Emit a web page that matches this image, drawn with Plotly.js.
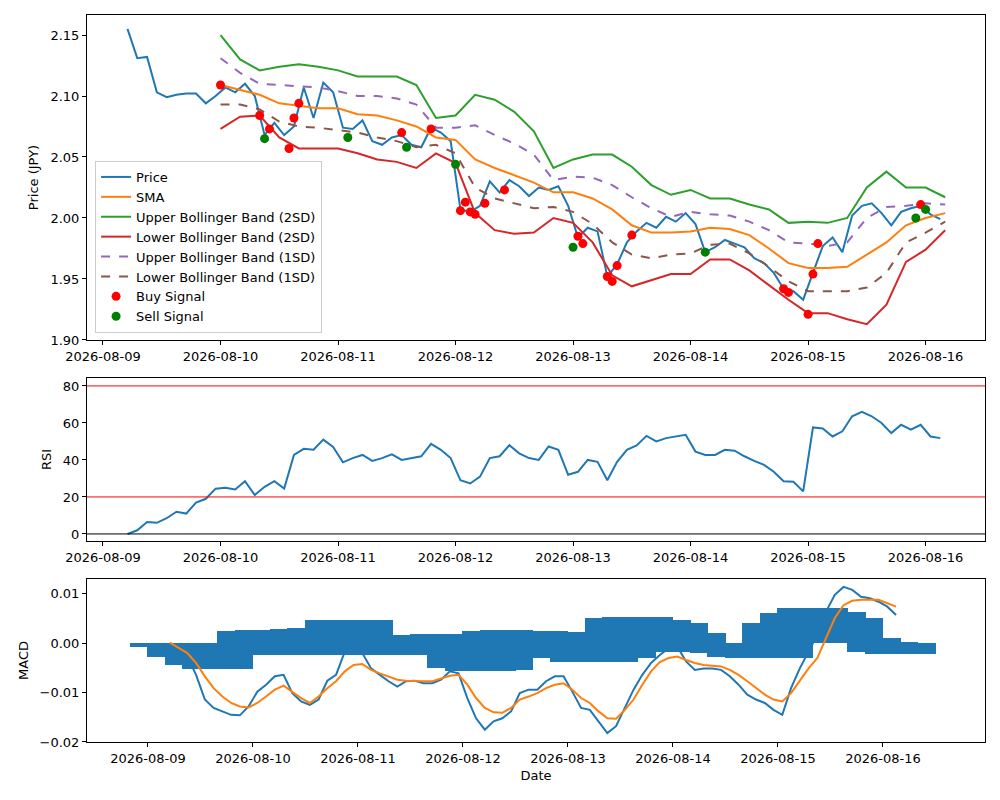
<!DOCTYPE html>
<html>
<head>
<meta charset="utf-8">
<script src="https://cdn.plot.ly/plotly-3.0.1.min.js"></script>
<style>body{margin:0;background:#fff}#chart{width:1000px;height:800px}</style>
</head>
<body>
<div id="chart"></div>
<script>
// hourly feed sampled every 2h, first point 2026-08-09 05:00
var priceStartHour = 5, priceStep = 2;
var price = [2.155,2.131,2.132,2.103,2.099,2.101,2.102,2.102,2.094,2.100,
	2.107,2.103,2.110,2.100,2.068,2.078,2.068,2.075,2.107,2.082,
	2.111,2.103,2.074,2.073,2.080,2.063,2.060,2.066,2.068,2.060,
	2.058,2.074,2.070,2.063,2.007,2.005,2.010,2.030,2.021,2.031,
	2.026,2.018,2.025,2.023,2.026,2.010,1.984,1.992,1.989,1.952,
	1.962,1.980,1.989,1.996,1.992,2.001,1.997,2.004,1.995,1.972,
	1.976,1.982,1.979,1.976,1.967,1.963,1.955,1.942,1.940,1.933,
	1.955,1.977,1.984,1.972,2.002,2.010,2.012,2.004,1.994,2.005,
	2.008,2.010,2.003,1.999];

// bands every 4h from 2026-08-10 00:00
var bandStartHour = 24, bandStep = 4;
var sma = [2.109,2.105,2.101,2.094,2.092,2.090,2.090,2.085,2.084,2.080,
	2.075,2.066,2.064,2.048,2.041,2.035,2.029,2.021,2.021,2.016,
	2.007,1.994,1.988,1.988,1.989,1.992,1.991,1.986,1.975,1.963,
	1.959,1.959,1.960,1.970,1.980,1.994,2.000,2.004];
var upper2 = [2.150,2.130,2.121,2.124,2.126,2.124,2.121,2.116,2.116,2.116,
	2.109,2.082,2.084,2.101,2.097,2.087,2.071,2.041,2.048,2.052,
	2.052,2.042,2.027,2.019,2.023,2.016,2.016,2.011,2.007,1.996,
	1.997,1.996,2.000,2.025,2.038,2.025,2.025,2.017];
var lower2 = [2.073,2.083,2.084,2.066,2.057,2.057,2.057,2.053,2.048,2.046,
	2.041,2.053,2.045,2.004,1.990,1.987,1.988,2.000,1.996,1.980,
	1.953,1.944,1.949,1.954,1.954,1.966,1.966,1.957,1.945,1.933,
	1.922,1.922,1.917,1.913,1.929,1.964,1.974,1.990];
var upper1 = [2.131,2.119,2.110,2.109,2.108,2.107,2.104,2.100,2.100,2.098,
	2.093,2.074,2.074,2.076,2.068,2.061,2.052,2.031,2.034,2.033,
	2.027,2.017,2.008,2.001,2.005,2.003,2.002,1.997,1.990,1.980,
	1.979,1.977,1.980,2.000,2.009,2.010,2.012,2.011];
var lower1 = [2.093,2.093,2.089,2.079,2.075,2.074,2.072,2.070,2.066,2.063,
	2.058,2.060,2.053,2.025,2.016,2.012,2.008,2.009,2.005,1.995,
	1.980,1.970,1.967,1.970,1.971,1.978,1.979,1.971,1.960,1.948,
	1.940,1.940,1.940,1.943,1.955,1.980,1.988,1.997];

// signals: hour offset from 2026-08-09 00:00
var buyHours = [24,32,34,38,39,40,61,67,73,74,75,76,78,82,97,98,103,104,105,108,139,140,144,145,146,167];
var buyPrice = [2.109,2.084,2.073,2.057,2.082,2.094,2.070,2.073,2.006,2.013,2.005,2.003,2.012,2.023,
	1.985,1.979,1.952,1.948,1.961,1.986,1.942,1.939,1.921,1.954,1.979,2.011];
var sellHours = [33,50,62,72,96,123,166,168];
var sellPrice = [2.065,2.066,2.058,2.044,1.976,1.972,2.000,2.007];

var rsi = [0,2,6.5,6,8.5,12,11,17,19,24.5,
	25,24,28.5,21,25.5,28.5,24.5,42.7,46,45.5,
	51,47,38.7,41,42.7,39.5,41,43,40,41,
	42,48.7,45.5,41,29,27.3,31,41,42,48,
	43.6,41,40,47.3,45.5,32,33.6,40,39,29,
	39,45.5,47.8,53,50,51.8,52.7,53.6,44.5,42.7,
	42.7,45.5,45,42,39.5,37.3,33.6,28.5,28.2,23,
	57.6,57,52.7,55.5,63.6,66,63.6,60,54.5,59,
	56.4,59,52.7,51.8];

var macd = [0.0000,-0.0013,-0.0027,-0.0064,-0.0114,-0.0131,-0.0138,-0.0145,-0.0146,-0.0128,
	-0.0098,-0.0084,-0.0067,-0.0064,-0.0101,-0.0118,-0.0125,-0.0114,-0.0076,-0.0064,
	-0.0017,-0.0003,-0.0020,-0.0051,-0.0064,-0.0077,-0.0088,-0.0077,-0.0076,-0.0081,
	-0.0081,-0.0074,-0.0057,-0.0061,-0.0111,-0.0152,-0.0175,-0.0158,-0.0152,-0.0138,
	-0.0101,-0.0094,-0.0094,-0.0077,-0.0067,-0.0067,-0.0098,-0.0131,-0.0135,-0.0158,
	-0.0182,-0.0168,-0.0131,-0.0094,-0.0064,-0.0040,-0.0024,-0.0010,-0.0007,-0.0037,
	-0.0054,-0.0051,-0.0051,-0.0054,-0.0067,-0.0084,-0.0104,-0.0114,-0.0121,-0.0135,
	-0.0145,-0.0091,-0.0051,-0.0017,0.0017,0.0064,0.0098,0.0114,0.0108,0.0094,
	0.0091,0.0084,0.0074,0.0057];
var signal = [0.0001,-0.0010,-0.0020,-0.0040,-0.0067,-0.0091,-0.0108,-0.0121,-0.0128,-0.0130,
	-0.0121,-0.0108,-0.0094,-0.0086,-0.0098,-0.0111,-0.0121,-0.0108,-0.0091,-0.0077,
	-0.0057,-0.0044,-0.0042,-0.0054,-0.0061,-0.0067,-0.0074,-0.0076,-0.0077,-0.0077,
	-0.0077,-0.0071,-0.0066,-0.0064,-0.0084,-0.0111,-0.0131,-0.0140,-0.0141,-0.0131,
	-0.0114,-0.0108,-0.0101,-0.0091,-0.0084,-0.0081,-0.0094,-0.0111,-0.0121,-0.0138,
	-0.0152,-0.0153,-0.0135,-0.0114,-0.0084,-0.0057,-0.0038,-0.0030,-0.0027,-0.0034,
	-0.0040,-0.0044,-0.0045,-0.0047,-0.0054,-0.0064,-0.0077,-0.0091,-0.0104,-0.0114,
	-0.0118,-0.0101,-0.0077,-0.0051,-0.0030,0.0010,0.0051,0.0077,0.0086,0.0088,
	0.0088,0.0088,0.0081,0.0074];

// histogram shown as wide overlapping bars: top / bottom of the filled block, every 4h from 08-08 22:00
var histStartHour = -2, histStep = 4;
var histTop = [0,0,0,0,0,0.0024,0.0027,0.0027,0.0029,0.0030,
	0.0047,0.0047,0.0047,0.0047,0.0047,0.0017,0.0018,0.0018,0.0018,0.0024,
	0.0027,0.0027,0.0027,0.0025,0.0024,0.0022,0.0051,0.0053,0.0053,0.0053,
	0.0053,0.0047,0.0040,0.0020,0,0.0040,0.0061,0.0071,0.0071,0.0071,
	0.0071,0.0064,0.0051,0.0010,0.0003,0];
var histBottom = [-0.0007,-0.0027,-0.0044,-0.0053,-0.0053,-0.0053,-0.0053,-0.0024,-0.0024,-0.0024,
	-0.0024,-0.0024,-0.0024,-0.0024,-0.0024,-0.0024,-0.0024,-0.0051,-0.0057,-0.0057,
	-0.0057,-0.0057,-0.0054,-0.0030,-0.0038,-0.0038,-0.0038,-0.0038,-0.0038,-0.0030,
	-0.0017,-0.0018,-0.0020,-0.0027,-0.0029,-0.0029,-0.0029,-0.0029,-0.0029,0,
	0,-0.0017,-0.0021,-0.0021,-0.0021,-0.0021];

function hourToDate(h) {
	var d = new Date(Date.UTC(2026, 7, 9) + h * 3600000);
	return d.toISOString().replace('T', ' ').slice(0, 19);
}
function timeline(start, step, n) {
	var out = [];
	for (var i = 0; i < n; i++) out.push(hourToDate(start + step * i));
	return out;
}

var tPrice = timeline(priceStartHour, priceStep, price.length);
var tBand = timeline(bandStartHour, bandStep, sma.length);
var tHist = timeline(histStartHour, histStep, histTop.length);

var blue = '#1f77b4', orange = '#ff7f0e', green = '#2ca02c', red = '#d62728', purple = '#9467bd', brown = '#8c564b';

function line(x, y, name, color, dash, xa, ya, show) {
	return {x: x, y: y, type: 'scatter', mode: 'lines', name: name, xaxis: xa, yaxis: ya,
		showlegend: show, line: {color: color, width: 2, dash: dash || 'solid'}};
}

var traces = [
	line(tPrice, price, 'Price', blue, null, 'x', 'y', true),
	line(tBand, sma, 'SMA', orange, null, 'x', 'y', true),
	line(tBand, upper2, 'Upper Bollinger Band (2SD)', green, null, 'x', 'y', true),
	line(tBand, lower2, 'Lower Bollinger Band (2SD)', red, null, 'x', 'y', true),
	line(tBand, upper1, 'Upper Bollinger Band (1SD)', purple, 'dash', 'x', 'y', true),
	line(tBand, lower1, 'Lower Bollinger Band (1SD)', brown, 'dash', 'x', 'y', true),
	{x: buyHours.map(hourToDate), y: buyPrice, type: 'scatter', mode: 'markers', name: 'Buy Signal',
		marker: {color: 'red', size: 9}, xaxis: 'x', yaxis: 'y'},
	{x: sellHours.map(hourToDate), y: sellPrice, type: 'scatter', mode: 'markers', name: 'Sell Signal',
		marker: {color: 'green', size: 9}, xaxis: 'x', yaxis: 'y'},
	line(tPrice, rsi, 'RSI', blue, null, 'x2', 'y2', false),
	{x: tHist, base: histBottom, y: histTop.map(function (v, i) { return v - histBottom[i]; }),
		type: 'bar', width: histStep * 3600000 * 1.06, marker: {color: blue, line: {width: 0}},
		xaxis: 'x3', yaxis: 'y3', showlegend: false, hoverinfo: 'skip'},
	line(tPrice, macd, 'MACD', blue, null, 'x3', 'y3', false),
	line(tPrice, signal, 'Signal', orange, null, 'x3', 'y3', false)
];

var axisStyle = {showline: true, mirror: true, linecolor: 'black', linewidth: 1, ticks: 'outside',
	ticklen: 4, tickcolor: 'black', showgrid: false, zeroline: false};
function ax(extra) { return Object.assign({}, axisStyle, extra); }

var titleFont = {size: 13};
var dateTicks = {type: 'date', tick0: '2026-08-09', dtick: 86400000, tickformat: '%Y-%m-%d'};
var topRange = ['2026-08-08 20:44', '2026-08-16 12:08'];

var layout = {
	width: 1000, height: 800,
	margin: {l: 87, r: 15, t: 15, b: 58},
	paper_bgcolor: 'white', plot_bgcolor: 'white',
	font: {family: 'DejaVu Sans', size: 13, color: 'black'},
	bargap: 0,
	xaxis: ax(Object.assign({anchor: 'y', range: topRange}, dateTicks)),
	yaxis: ax({domain: [0.553, 1], range: [1.9, 2.1664], dtick: 0.05, tickformat: '.2f',
		title: {text: 'Price (JPY)', standoff: 8, font: titleFont}}),
	xaxis2: ax(Object.assign({anchor: 'y2', range: topRange}, dateTicks)),
	yaxis2: ax({domain: [0.2765, 0.5007], range: [-3.8, 84.3], dtick: 20,
		title: {text: 'RSI', standoff: 8, font: titleFont}}),
	xaxis3: ax(Object.assign({anchor: 'y3', range: ['2026-08-08 10:04', '2026-08-16 23:20'],
		title: {text: 'Date', standoff: 6, font: titleFont}}, dateTicks)),
	yaxis3: ax({domain: [0, 0.2242], range: [-0.0200, 0.0130], dtick: 0.01, tickformat: '.2f',
		title: {text: 'MACD', standoff: 8, font: titleFont}}),
	legend: {x: 0.009, y: 0.5626, xanchor: 'left', yanchor: 'bottom', bgcolor: 'rgba(255,255,255,0.8)',
		bordercolor: '#cccccc', borderwidth: 1, font: {size: 13}, tracegroupgap: 0},
	shapes: [
		{type: 'line', xref: 'x2 domain', yref: 'y2', x0: 0, x1: 1, y0: 80, y1: 80, line: {color: 'red', width: 1}},
		{type: 'line', xref: 'x2 domain', yref: 'y2', x0: 0, x1: 1, y0: 20, y1: 20, line: {color: 'red', width: 1}},
		{type: 'line', xref: 'x2 domain', yref: 'y2', x0: 0, x1: 1, y0: 0, y1: 0, line: {color: 'black', width: 1}}
	]
};

Plotly.newPlot('chart', traces, layout, {staticPlot: true});
</script>
</body>
</html>
